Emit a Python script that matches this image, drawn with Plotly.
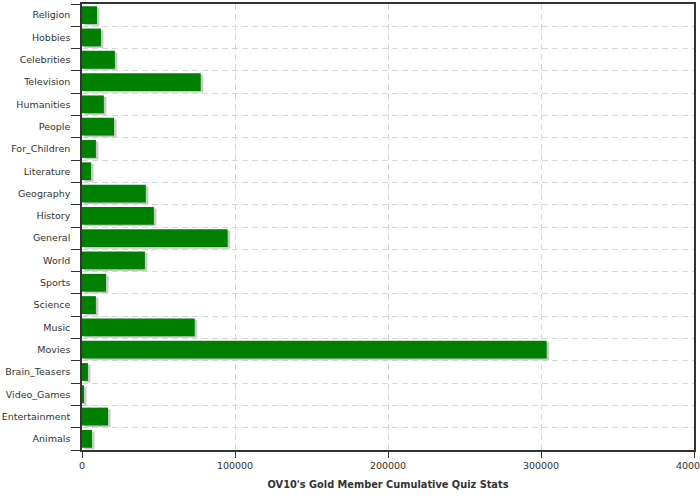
import plotly.graph_objects as go

categories = ["Religion", "Hobbies", "Celebrities", "Television", "Humanities", "People",
              "For_Children", "Literature", "Geography", "History", "General", "World",
              "Sports", "Science", "Music", "Movies", "Brain_Teasers", "Video_Games",
              "Entertainment", "Animals"]
values = [9800, 12400, 21500, 77600, 14300, 20900, 9100, 5900, 41700, 47000,
          95200, 41100, 15700, 9100, 73700, 303700, 3900, 1300, 17000, 6500]
x_ticks = [0, 100000, 200000, 300000, 400000]
title_text = "OV10's Gold Member Cumulative Quiz Stats"

pos = list(range(len(categories)))
boundaries = [i - 0.5 for i in range(len(categories) + 1)]
shadow_dx = 1600

fig = go.Figure()
fig.add_trace(go.Bar(
    y=pos, x=values, base=shadow_dx, orientation="h",
    width=0.8, offset=-0.4 + 0.07,
    marker=dict(color="#c8c8c8", line=dict(width=0)),
    hoverinfo="skip", showlegend=False,
))
fig.add_trace(go.Bar(
    y=pos, x=values, orientation="h",
    width=0.8, offset=-0.4,
    marker=dict(color="#008000", line=dict(width=0)),
    showlegend=False, name="",
))

font_family = "DejaVu Sans, Lato, sans-serif"
grid_dash = "6px,4px"
fig.update_layout(
    width=700, height=500,
    margin=dict(l=82, r=6, t=4, b=50, autoexpand=False),
    plot_bgcolor="white", paper_bgcolor="white",
    barmode="overlay", bargap=0.2,
    font=dict(family=font_family, size=9.5, color="#333333"),
    xaxis=dict(
        range=[0, 400000], tickvals=x_ticks, ticktext=[str(v) for v in x_ticks],
        showgrid=True, gridcolor="#d3d7db", griddash=grid_dash, gridwidth=1,
        zeroline=False, showline=True, linecolor="#333333", linewidth=1.5,
        mirror=True, ticks="outside", ticklen=6, tickcolor="#333333",
        tickfont=dict(size=9.5, color="#333333"), ticklabeloverflow="allow",
        title=dict(text="<b>" + title_text + "</b>", font=dict(size=9.8, color="#333333"), standoff=11),
        automargin=False,
    ),
    yaxis=dict(
        range=[len(categories) - 0.5, -0.5],
        tickvals=pos, ticktext=categories, ticks="", showgrid=False,
        zeroline=False, showline=True, linecolor="#333333", linewidth=1.5, mirror=True,
        ticklabelstandoff=8,
        tickfont=dict(size=9.5, color="#333333"),
        minor=dict(tickvals=boundaries, ticks="outside", ticklen=9, tickcolor="#333333",
                   showgrid=True, gridcolor="#d3d7db", griddash=grid_dash, gridwidth=1),
        automargin=False,
    ),
)

fig.write_html("out.html", config={"displayModeBar": False},
               post_script="document.body.style.margin='0';")
